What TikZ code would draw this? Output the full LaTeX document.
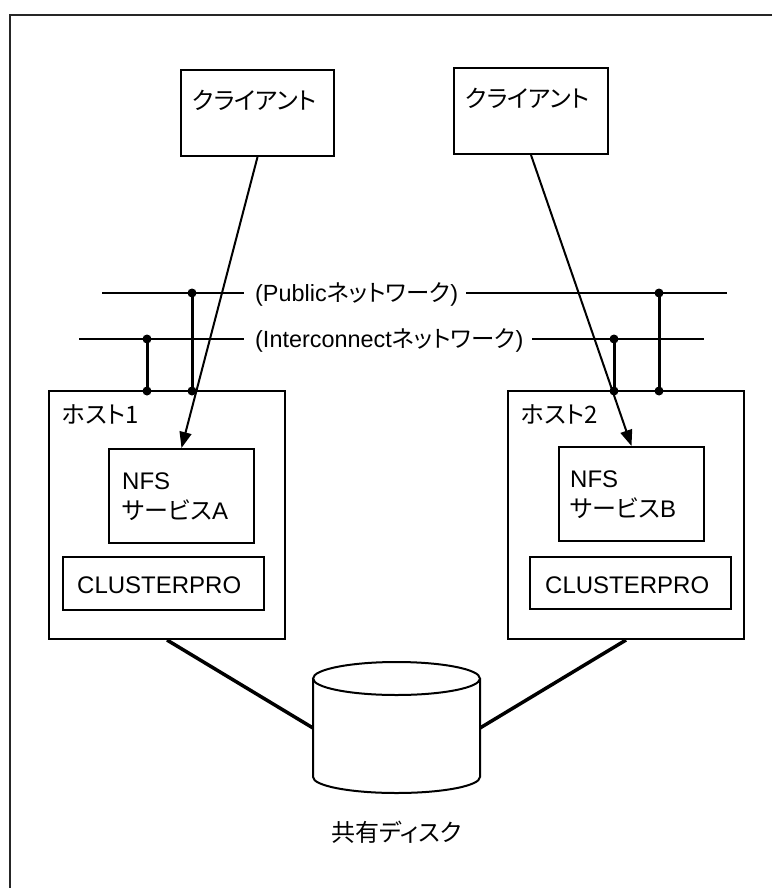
\documentclass[tikz,border=0pt]{standalone}
\usepackage{fontspec}
\setmainfont{Liberation Sans}
\newfontfamily\jp[RawFeature=+palt]{Noto Sans CJK JP}
\usetikzlibrary{arrows.meta}
\tikzset{
  box/.style={draw=black, line width=2pt, inner sep=0pt},
  lbl/.style={inner sep=0pt, anchor=base west, font=\fontsize{24}{28}\selectfont},
  netlbl/.style={inner sep=0pt, anchor=base west, font=\fontsize{23.4}{28}\selectfont},
  net/.style={line width=1.5pt},
  tap/.style={line width=3pt},
  dot/.style={circle, fill=black, inner sep=0pt, minimum size=9pt},
  arr/.style={line width=2pt, -{Triangle[length=16pt,width=12pt]}},
  disk/.style={line width=3.5pt},
}
\begin{document}
\begin{tikzpicture}[x=1pt,y=-1pt]
\useasboundingbox (0,0) rectangle (772,888);
% outer frame (only top and left visible)
\draw[line width=2pt, black!85] (772,15) -- (10,15) -- (10,888);

% clients
\node[box, minimum width=153pt, minimum height=86pt] (c1) at (257.5,113) {};
\node[lbl] (c1t) at (192,110) {\jp クライアント};
\node[box, minimum width=154pt, minimum height=86pt] (c2) at (531,111) {};
\node[lbl] (c2t) at (465,108) {\jp クライアント};

% hosts
\node[box, minimum width=236pt, minimum height=248pt] (h1) at (167,515) {};
\node[lbl] (h1t) at (62,423) {\jp ホスト1};
\node[box, minimum width=236pt, minimum height=248pt] (h2) at (626,515) {};
\node[lbl] (h2t) at (521,423) {\jp ホスト2};

% NFS services
\node[box, minimum width=145pt, minimum height=94pt] (n1) at (181.5,496) {};
\node[lbl] (n1a) at (122,489) {NFS};
\node[lbl] (n1b) at (122,519) {{\jp サービス}A};
\node[box, minimum width=145pt, minimum height=94pt] (n2) at (631.5,494) {};
\node[lbl] (n2a) at (570,487) {NFS};
\node[lbl] (n2b) at (570,517) {{\jp サービス}B};

% CLUSTERPRO
\node[box, minimum width=201pt, minimum height=53pt] (p1) at (163.5,583.5) {};
\node[lbl] (p1t) at (77,593) {CLUSTERPRO};
\node[box, minimum width=201pt, minimum height=52pt] (p2) at (630.5,583) {};
\node[lbl] (p2t) at (545,593) {CLUSTERPRO};

% networks
\coordinate (pubL) at (102,293);
\coordinate (pubLe) at (244,293);
\coordinate (pubRs) at (466,293);
\coordinate (pubR) at (727,293);
\coordinate (icL) at (79,339);
\coordinate (icLe) at (244,339);
\coordinate (icRs) at (532,339);
\coordinate (icR) at (704,339);
\draw[net] (pubL) -- (pubLe);
\draw[net] (pubRs) -- (pubR);
\draw[net] (icL) -- (icLe);
\draw[net] (icRs) -- (icR);
\node[netlbl] (pubt) at (255,301) {({Public}{\jp ネットワーク})};
\node[netlbl] (ict) at (255,347) {({Interconnect}{\jp ネットワーク})};

% taps
\node[dot] (d1a) at (192,293) {};
\node[dot] (d1b) at (192,391) {};
\node[dot] (d2a) at (147,339) {};
\node[dot] (d2b) at (147,391) {};
\node[dot] (d3a) at (614,339) {};
\node[dot] (d3b) at (614,391) {};
\node[dot] (d4a) at (659,293) {};
\node[dot] (d4b) at (659,391) {};
\draw[tap] (d1a.center) -- (d1b.center);
\draw[tap] (d2a.center) -- (d2b.center);
\draw[tap] (d3a.center) -- (d3b.center);
\draw[tap] (d4a.center) -- (d4b.center);

% client arrows
\draw[arr] (c1.south) -- (n1.north);
\draw[arr] (c2.south) -- (n2.north);

% shared disk
\coordinate (dL) at (313,728);
\coordinate (dR) at (480,728);
\draw[line width=2pt, fill=white] (313,678.5) -- (313,777) arc[start angle=180, end angle=360, x radius=83.5pt, y radius=16pt] -- (480,678.5);
\draw[line width=2pt] (396.5,678.5) ellipse [x radius=83.5pt, y radius=16.5pt];
\node[lbl, anchor=base] (dt) at (396.5,841) {\jp 共有ディスク};
\draw[disk] (h1.south) -- (dL);
\draw[disk] (h2.south) -- (dR);
\end{tikzpicture}
\end{document}
